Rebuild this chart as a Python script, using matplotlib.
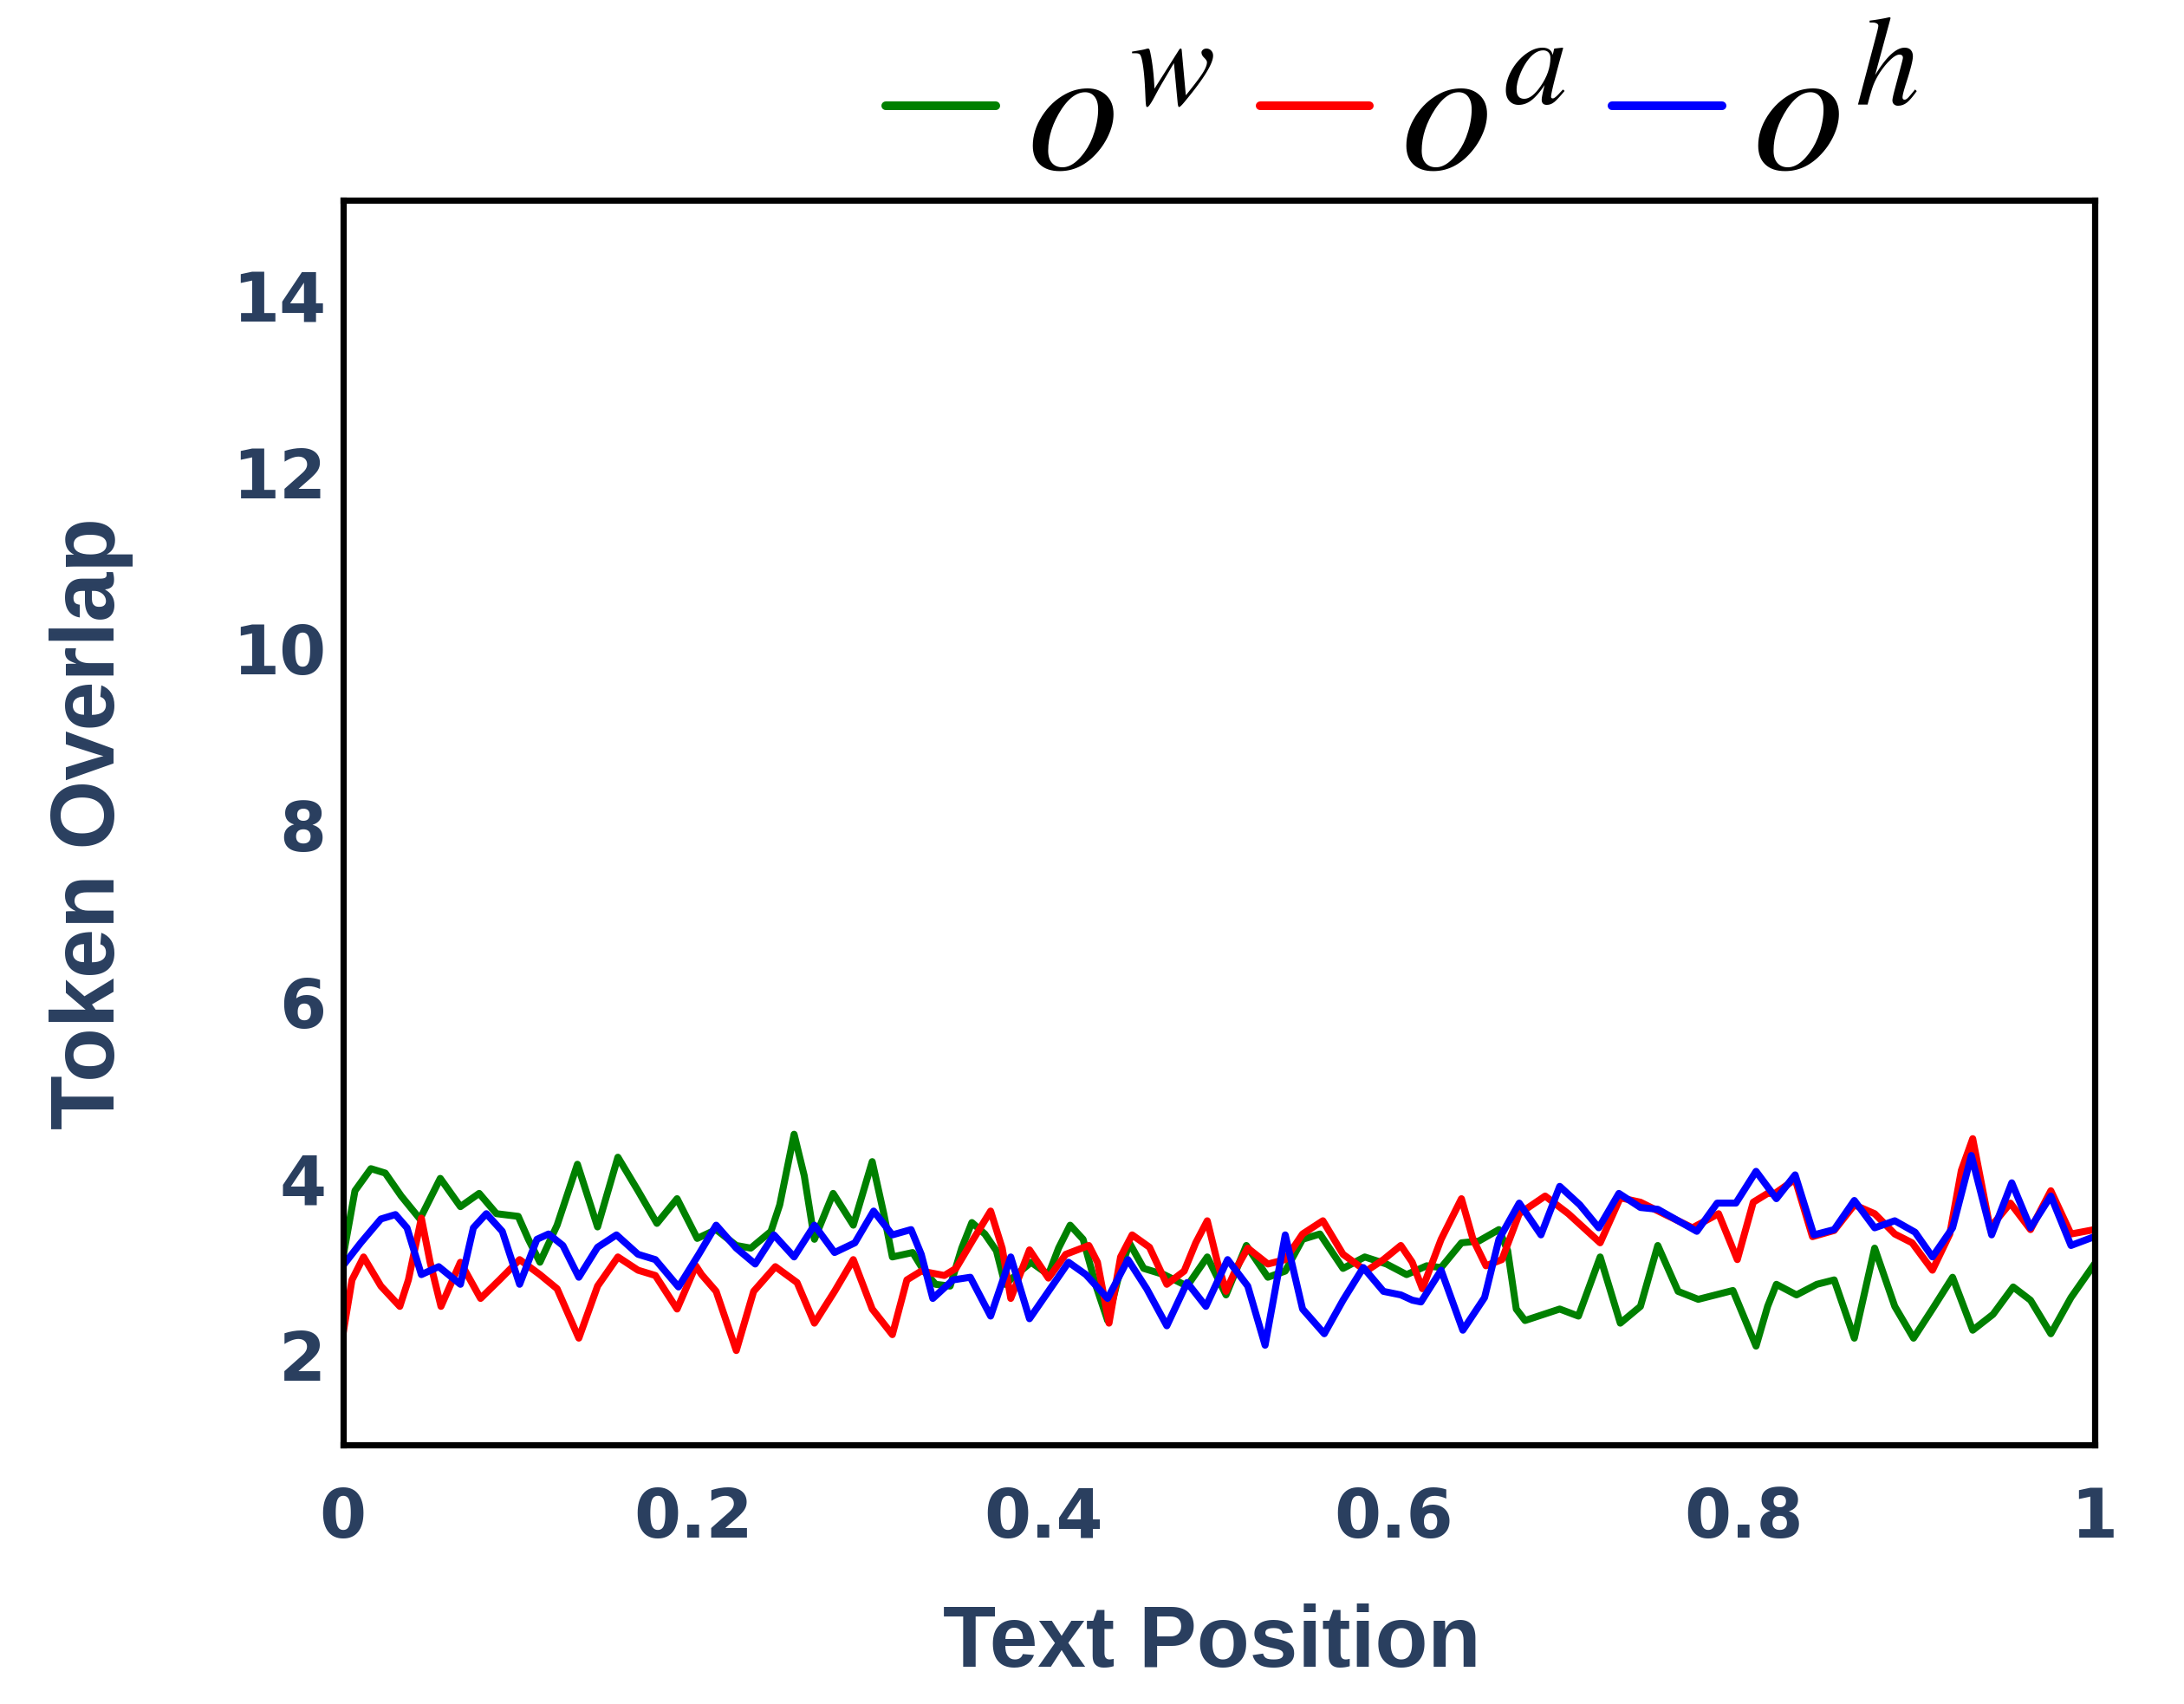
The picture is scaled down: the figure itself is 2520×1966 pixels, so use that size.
import matplotlib
matplotlib.use("Agg")
import matplotlib.pyplot as plt

# ---------------------------------------------------------------- data
x_w = [0.0, 0.0069, 0.016, 0.0242, 0.0333, 0.044, 0.0556, 0.0671, 0.0778, 0.0877, 0.1001, 0.1059,
       0.1125, 0.1223, 0.1339, 0.1454, 0.157, 0.1685, 0.1793, 0.1908, 0.2023, 0.2131, 0.2246, 0.2329,
       0.2444, 0.2494, 0.2576, 0.2634, 0.2692, 0.2799, 0.2914, 0.3022, 0.3088, 0.3137, 0.3253, 0.3318,
       0.3384, 0.3467, 0.3533, 0.3591, 0.3665, 0.3731, 0.378, 0.3929, 0.4028, 0.4086, 0.4152, 0.4226,
       0.43, 0.4366, 0.4424, 0.449, 0.4572, 0.4688, 0.482, 0.4935, 0.5042, 0.5158, 0.5281, 0.538,
       0.5479, 0.5578, 0.571, 0.5834, 0.5958, 0.6073, 0.6188, 0.627, 0.6386, 0.6485, 0.66, 0.665,
       0.6699, 0.6749, 0.6947, 0.7054, 0.7178, 0.7293, 0.7408, 0.7507, 0.7623, 0.7738, 0.7936, 0.8068,
       0.8134, 0.8184, 0.8299, 0.8415, 0.8514, 0.8629, 0.8745, 0.886, 0.8967, 0.9075, 0.919, 0.9305,
       0.9421, 0.9536, 0.9635, 0.9751, 0.9866, 1.0]
y_w = [3.1, 3.86, 4.11, 4.06, 3.8, 3.54, 4.0, 3.68, 3.83, 3.6, 3.57, 3.31,
       3.05, 3.47, 4.16, 3.45, 4.24, 3.86, 3.49, 3.77, 3.32, 3.42, 3.24, 3.21,
       3.4, 3.7, 4.5, 4.03, 3.31, 3.83, 3.47, 4.19, 3.6, 3.11, 3.16, 2.95,
       2.8, 2.78, 3.21, 3.5, 3.37, 3.18, 2.8, 3.05, 2.91, 3.21, 3.47, 3.31,
       2.78, 2.39, 2.85, 3.27, 2.98, 2.91, 2.78, 3.11, 2.68, 3.24, 2.88, 2.95,
       3.31, 3.37, 2.98, 3.11, 3.03, 2.91, 3.01, 2.99, 3.27, 3.29, 3.42, 3.18,
       2.52, 2.39, 2.52, 2.44, 3.11, 2.36, 2.55, 3.24, 2.72, 2.63, 2.73, 2.1,
       2.55, 2.8, 2.68, 2.8, 2.85, 2.19, 3.21, 2.55, 2.19, 2.52, 2.88, 2.28,
       2.46, 2.77, 2.62, 2.24, 2.65, 3.03]

x_a = [0.0, 0.0052, 0.0118, 0.0217, 0.0325, 0.0374, 0.0448, 0.0498, 0.056, 0.0671, 0.0786, 0.0894,
       0.1009, 0.1125, 0.1223, 0.1347, 0.1454, 0.157, 0.1685, 0.1784, 0.1908, 0.2015, 0.2048, 0.2131,
       0.2246, 0.2345, 0.2469, 0.2593, 0.2692, 0.2807, 0.2914, 0.3022, 0.3137, 0.322, 0.3302, 0.3434,
       0.35, 0.3599, 0.3698, 0.3764, 0.3813, 0.392, 0.4028, 0.4127, 0.4259, 0.4308, 0.4374, 0.444,
       0.4506, 0.4605, 0.4704, 0.4803, 0.4869, 0.4935, 0.4993, 0.5042, 0.51, 0.5166, 0.5281, 0.538,
       0.5479, 0.5595, 0.571, 0.5842, 0.5941, 0.604, 0.6105, 0.6163, 0.627, 0.6386, 0.6452, 0.6526,
       0.6617, 0.6716, 0.6864, 0.6996, 0.7178, 0.7293, 0.7408, 0.754, 0.7705, 0.7854, 0.7961, 0.8052,
       0.8134, 0.8176, 0.8291, 0.839, 0.8514, 0.8629, 0.8745, 0.886, 0.8959, 0.9075, 0.9174, 0.924,
       0.9305, 0.9404, 0.952, 0.9635, 0.9751, 0.9866, 1.0]
y_a = [2.23, 2.85, 3.11, 2.78, 2.55, 2.85, 3.55, 3.05, 2.55, 3.05, 2.64, 2.85,
       3.08, 2.91, 2.75, 2.19, 2.78, 3.11, 2.96, 2.9, 2.52, 3.01, 2.91, 2.72,
       2.05, 2.72, 3.0, 2.82, 2.36, 2.72, 3.08, 2.52, 2.23, 2.85, 2.95, 2.9,
       2.98, 3.31, 3.63, 3.21, 2.64, 3.19, 2.87, 3.14, 3.24, 3.05, 2.36, 3.11,
       3.36, 3.22, 2.8, 2.95, 3.27, 3.52, 3.05, 2.72, 2.98, 3.21, 3.03, 3.08,
       3.37, 3.52, 3.14, 2.95, 3.08, 3.24, 3.05, 2.75, 3.31, 3.77, 3.31, 3.01,
       3.08, 3.6, 3.8, 3.6, 3.27, 3.78, 3.73, 3.6, 3.44, 3.6, 3.08, 3.73,
       3.83, 3.83, 3.99, 3.34, 3.41, 3.7, 3.6, 3.37, 3.27, 2.96, 3.37, 4.09,
       4.45, 3.44, 3.72, 3.42, 3.86, 3.37, 3.42]

x_h = [0.0, 0.0102, 0.0217, 0.03, 0.0366, 0.0448, 0.0547, 0.0671, 0.0745, 0.0819, 0.091, 0.1009,
       0.1108, 0.1174, 0.1256, 0.1347, 0.1454, 0.1562, 0.1685, 0.1784, 0.1916, 0.2032, 0.2131, 0.2246,
       0.2354, 0.2461, 0.2576, 0.2692, 0.2807, 0.2923, 0.303, 0.3137, 0.3244, 0.3302, 0.3368, 0.3483,
       0.3582, 0.3698, 0.3813, 0.392, 0.4028, 0.4143, 0.4242, 0.4366, 0.4482, 0.4589, 0.4704, 0.482,
       0.4927, 0.5051, 0.5166, 0.5265, 0.538, 0.5479, 0.5603, 0.571, 0.5826, 0.5941, 0.604, 0.6106,
       0.6155, 0.627, 0.6394, 0.6518, 0.66, 0.6716, 0.684, 0.6947, 0.7062, 0.717, 0.7285, 0.7408,
       0.7507, 0.773, 0.7846, 0.7953, 0.8068, 0.8184, 0.8291, 0.8398, 0.8514, 0.8629, 0.8745, 0.886,
       0.8976, 0.9075, 0.919, 0.9297, 0.9413, 0.9528, 0.9635, 0.9751, 0.9866, 1.0]
y_h = [3.01, 3.27, 3.54, 3.59, 3.44, 2.91, 3.0, 2.8, 3.44, 3.6, 3.4, 2.8,
       3.31, 3.37, 3.24, 2.88, 3.22, 3.36, 3.14, 3.08, 2.77, 3.14, 3.47, 3.21,
       3.03, 3.36, 3.11, 3.47, 3.16, 3.27, 3.63, 3.36, 3.42, 3.14, 2.64, 2.85,
       2.88, 2.44, 3.11, 2.41, 2.72, 3.05, 2.91, 2.64, 3.08, 2.75, 2.33, 2.82,
       2.55, 3.08, 2.78, 2.11, 3.36, 2.52, 2.24, 2.62, 2.99, 2.72, 2.68, 2.62,
       2.6, 2.96, 2.28, 2.65, 3.31, 3.72, 3.36, 3.91, 3.7, 3.44, 3.83, 3.67,
       3.65, 3.4, 3.72, 3.72, 4.08, 3.77, 4.04, 3.36, 3.42, 3.75, 3.44, 3.52,
       3.39, 3.11, 3.44, 4.26, 3.36, 3.95, 3.44, 3.8, 3.24, 3.34]

series = [(x_w, y_w, "green", r"$o^{w}$"),
          (x_a, y_a, "red", r"$o^{a}$"),
          (x_h, y_h, "blue", r"$o^{h}$")]

x_ticks = [0, 0.2, 0.4, 0.6, 0.8, 1]
x_ticklabels = ["0", "0.2", "0.4", "0.6", "0.8", "1"]
y_ticks = [2, 4, 6, 8, 10, 12, 14]

# ---------------------------------------------------------------- plot
TXT = "#2a3f5f"
plt.rcParams["mathtext.fontset"] = "stix"

fig = plt.figure(figsize=(12.6, 9.83), dpi=200)
ax = fig.add_axes([0.157, 0.152, 0.802, 0.7305])

for xs, ys, col, lab in series:
    ax.plot(xs, ys, color=col, lw=2.9, label=lab, solid_joinstyle="round", solid_capstyle="round")

ax.set_xlim(0, 1)
ax.set_ylim(0.98, 15.08)
ax.set_xticks(x_ticks)
ax.set_xticklabels(x_ticklabels)
ax.set_yticks(y_ticks)
ax.tick_params(length=0, labelsize=28, labelcolor=TXT)
ax.tick_params(axis="x", pad=17)
ax.tick_params(axis="y", pad=7)
for lbl in ax.get_xticklabels() + ax.get_yticklabels():
    lbl.set_fontweight("heavy")
    lbl.set_family("DejaVu Sans")
for s in ax.spines.values():
    s.set_color("black")
    s.set_linewidth(2.6)

fig.text(0.555, 0.035, "Text Position", ha="center", va="center", fontsize=36,
         fontweight="bold", color=TXT, family=["Liberation Sans", "DejaVu Sans"])
fig.text(0.042, 0.517, "Token Overlap", ha="center", va="center", rotation=90, fontsize=37,
         fontweight="bold", color=TXT, family=["Liberation Sans", "DejaVu Sans"])

leg = fig.legend(loc="center", bbox_to_anchor=(0.642, 0.93), ncol=3, frameon=False,
                 fontsize=76, handlelength=0.6, handletextpad=0.17, columnspacing=0.25,
                 borderpad=0, borderaxespad=0)
for h in leg.get_lines():
    h.set_linewidth(3.6)

fig.savefig("out.png", dpi=200, facecolor="white")
